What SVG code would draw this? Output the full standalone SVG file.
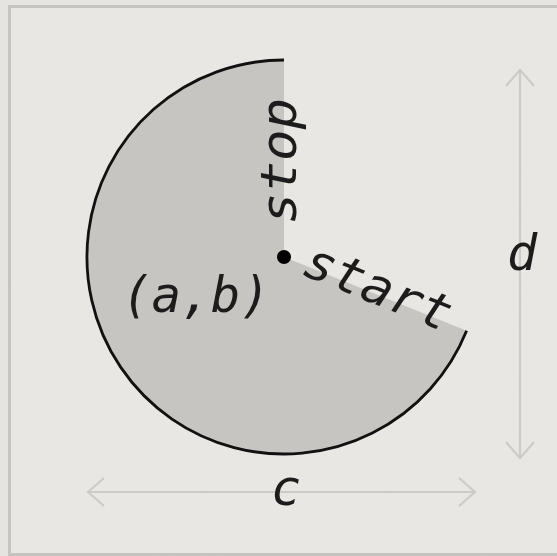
<svg xmlns="http://www.w3.org/2000/svg" width="557" height="556" viewBox="0 0 557 556">
  <style>
    .lbl { font-family: "DejaVu Sans Mono", "Liberation Mono", monospace; font-style: oblique; font-size: 50px; fill: #1c1c1c; }
    .dim { stroke: #cdcbc7; stroke-width: 2.2; fill: none; }
  </style>
  <defs>
    <filter id="paper" x="0" y="0" width="100%" height="100%">
      <feTurbulence type="fractalNoise" baseFrequency="0.9" numOctaves="3" seed="4" result="n"/>
      <feColorMatrix type="matrix" values="0 0 0 0 0.5  0 0 0 0 0.5  0 0 0 0 0.5  0 0 0 0.06 0" result="g"/>
      <feComposite in="g" in2="SourceGraphic" operator="over"/>
    </filter>
    <marker id="chev" viewBox="-1 -16 20 32" refX="17" refY="0" markerWidth="20" markerHeight="32" markerUnits="userSpaceOnUse" orient="auto-start-reverse">
      <path d="M1,-14 L17,0 L1,14" fill="none" stroke="#cdcbc7" stroke-width="2.2"/>
    </marker>
  </defs>

  <g id="background">
    <rect x="0" y="0" width="557" height="556" fill="#e7e5e1" filter="url(#paper)"/>
    <rect x="10" y="7" width="560" height="547" fill="#eae8e4" filter="url(#paper)"/>
  </g>
  <g id="frame">
    <rect x="9.5" y="6.5" width="560" height="548" fill="none" stroke="#c6c4c0" stroke-width="3"/>
  </g>

  <g id="pie">
    <path d="M284,257 L466.6,330.8 A197,197 0 1 1 284,60 Z" fill="#c6c5c1"/>
    <path d="M466.6,330.8 A197,197 0 1 1 284,60" fill="none" stroke="#111" stroke-width="2.8"/>
    <circle cx="284" cy="257" r="7" fill="#000"/>
  </g>

  <g id="connectors">
    <line class="dim" x1="520" y1="70" x2="520" y2="458" marker-start="url(#chev)" marker-end="url(#chev)"/>
    <line class="dim" x1="88" y1="492" x2="475" y2="492" marker-start="url(#chev)" marker-end="url(#chev)"/>
  </g>

  <g id="labels">
    <text class="lbl" transform="translate(296,224) rotate(-90)" textLength="126" lengthAdjust="spacingAndGlyphs">stop</text>
    <text class="lbl" transform="translate(300,274) rotate(22)" textLength="155" lengthAdjust="spacingAndGlyphs">start</text>
    <text class="lbl" x="122" y="312" textLength="148" lengthAdjust="spacingAndGlyphs">(a,b)</text>
    <text class="lbl" x="522" y="270" text-anchor="middle">d</text>
    <text class="lbl" x="286" y="505" text-anchor="middle">c</text>
  </g>
</svg>
